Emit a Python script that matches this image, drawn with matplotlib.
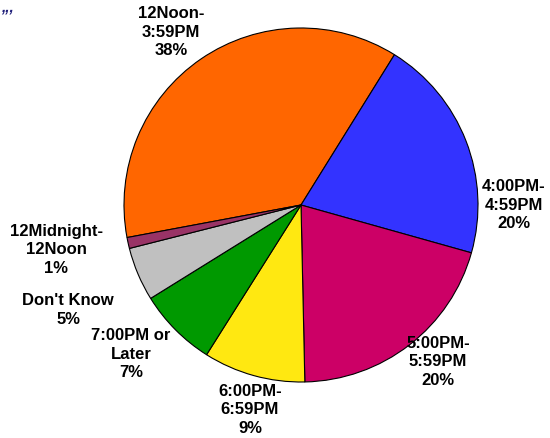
import matplotlib
matplotlib.use('Agg')
import matplotlib.pyplot as plt

# Slices, clockwise from the orange one
slices = ['12Noon-\n3:59PM', '4:00PM-\n4:59PM', '5:00PM-\n5:59PM', '6:00PM-\n6:59PM',
          '7:00PM or\nLater', "Don't Know", '12Midnight-\n12Noon']
values = [36.8, 20.5, 20.3, 9.3, 7.2, 4.9, 1.0]
pct_labels = ['38%', '20%', '20%', '9%', '7%', '5%', '1%']
colors = ['#FF6600', '#3333FF', '#CC0066', '#FFE811', '#009900', '#C0C0C0', '#993366']

# label centres (pie units, centre 0,0 radius 1)
label_pos = [(-0.734, 0.977), (1.203, 0.0), (0.774, -0.887), (-0.288, -1.158),
             (-0.960, -0.842), (-1.316, -0.593), (-1.384, -0.254)]

plt.rcParams['font.family'] = ['Liberation Sans', 'DejaVu Sans']

fig = plt.figure(figsize=(5.5, 4.38), dpi=100)
ax = fig.add_axes([124/550, 56/438, 354/550, 354/438])

ax.pie(values, colors=colors, startangle=190.6, counterclock=False,
       wedgeprops=dict(edgecolor='black', linewidth=0.8))
ax.set_xlim(-1, 1)
ax.set_ylim(-1, 1)
ax.set_aspect('equal')

for name, pct, (x, y) in zip(slices, pct_labels, label_pos):
    ax.text(x, y, name + '\n' + pct, ha='center', va='center', fontsize=12,
            fontweight='bold', linespacing=1.26, clip_on=False)

# title fragment in the corner
fig.text(0.002, 0.999, ',,,', color='#1F1F7A', fontsize=11, fontweight='bold',
         fontstyle='italic', ha='left', va='top')

fig.savefig('out.png', dpi=100)
